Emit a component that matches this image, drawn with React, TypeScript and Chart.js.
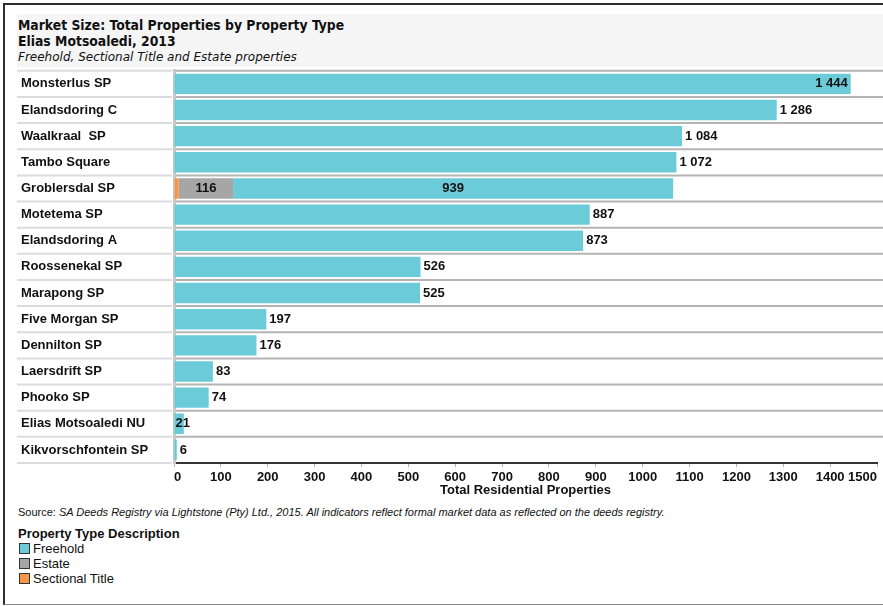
import React, { useEffect, useRef } from "react";
import { Chart, registerables } from "chart.js";

Chart.register(...registerables);

const titleText = "Market Size: Total Properties by Property Type";
const subtitleText = "Elias Motsoaledi, 2013";
const noteText = "Freehold, Sectional Title and Estate properties";
const sourceLead = "Source: ";
const sourceText =
  "SA Deeds Registry via Lightstone (Pty) Ltd., 2015. All indicators reflect formal market data as reflected on the deeds registry.";
const legendTitle = "Property Type Description";
const axisTitle = "Total Residential Properties";

const categories = [
  "Monsterlus SP",
  "Elandsdoring C",
  "Waalkraal  SP",
  "Tambo Square",
  "Groblersdal SP",
  "Motetema SP",
  "Elandsdoring A",
  "Roossenekal SP",
  "Marapong SP",
  "Five Morgan SP",
  "Dennilton SP",
  "Laersdrift SP",
  "Phooko SP",
  "Elias Motsoaledi NU",
  "Kikvorschfontein SP",
];

const freehold = [1444, 1286, 1084, 1072, 939, 887, 873, 526, 525, 197, 176, 83, 74, 21, 6];
const estate = [0, 0, 0, 0, 116, 0, 0, 0, 0, 0, 0, 0, 0, 0, 0];
const sectionalTitle = [0, 0, 0, 0, 10, 0, 0, 0, 0, 0, 0, 0, 0, 0, 0];

const xMin = 0;
const xMax = 1500;
const xStep = 100;

const seriesNames = ["Sectional Title", "Estate", "Freehold"];
const legendNames = ["Freehold", "Estate", "Sectional Title"];

const COLORS: Record<string, string> = {
  Freehold: "#6ccbd9",
  Estate: "#a6a6a6",
  "Sectional Title": "#f79646",
};

const FONT = '"Liberation Sans", Arial, sans-serif';
const TITLE_FONT = '"DejaVu Sans Condensed", "DejaVu Sans", sans-serif';
const NOTE_FONT = '"DejaVu Sans", sans-serif';

const fmt = (v: number) => String(v).replace(/\B(?=(\d{3})+(?!\d))/g, " ");

const rowLines = {
  id: "rowLines",
  beforeDatasetsDraw(chart: any) {
    const { ctx, chartArea } = chart;
    const n = categories.length;
    const rowH = (chartArea.bottom - chartArea.top) / n;
    ctx.save();
    ctx.lineWidth = 2;
    for (let i = 0; i <= n; i++) {
      const y = chartArea.top + i * rowH;
      ctx.strokeStyle = "#dcdcdc";
      ctx.beginPath();
      ctx.moveTo(0, y);
      ctx.lineTo(chartArea.left - 2, y);
      ctx.stroke();
      if (i < n) {
        ctx.strokeStyle = "#b4b4b4";
        ctx.beginPath();
        ctx.moveTo(chartArea.left + 2, y);
        ctx.lineTo(chart.width, y);
        ctx.stroke();
      }
    }
    ctx.restore();
  },
};

const valueLabels = {
  id: "valueLabels",
  afterDatasetsDraw(chart: any) {
    const { ctx, chartArea } = chart;
    ctx.save();
    ctx.font = `bold 13px ${FONT}`;
    ctx.fillStyle = "#111";
    ctx.textBaseline = "middle";
    chart.data.datasets.forEach((ds: any, di: number) => {
      const meta = chart.getDatasetMeta(di);
      meta.data.forEach((bar: any, i: number) => {
        const v = ds.data[i];
        if (!v) return;
        const { x, y, base } = bar.getProps(["x", "y", "base"], true);
        const w = x - base;
        const text = fmt(v);
        const tw = ctx.measureText(text).width;
        const stacked = chart.data.datasets.some((d: any, k: number) => k !== di && d.data[i] > 0);
        if (stacked) {
          if (w < 20) return;
          ctx.textAlign = "center";
          ctx.fillText(text, (x + base) / 2, y);
        } else if (x + tw + 6 > chartArea.right) {
          ctx.textAlign = "right";
          ctx.fillText(text, x - 3, y);
        } else if (w > 8 && w < tw) {
          ctx.textAlign = "left";
          ctx.fillText(text, base + 1, y);
        } else {
          ctx.textAlign = "left";
          ctx.fillText(text, x + 3, y);
        }
      });
    });
    ctx.restore();
  },
};

function BarChart() {
  const ref = useRef<HTMLCanvasElement | null>(null);
  useEffect(() => {
    if (!ref.current) return;
    const dataMap: Record<string, number[]> = {
      "Sectional Title": sectionalTitle,
      Estate: estate,
      Freehold: freehold,
    };
    const chart = new Chart(ref.current, {
      type: "bar",
      data: {
        labels: categories,
        datasets: seriesNames.map((name) => ({
          label: name,
          data: dataMap[name],
          backgroundColor: COLORS[name],
          borderWidth: 0,
          barPercentage: 0.78,
          categoryPercentage: 1,
        })),
      },
      options: {
        indexAxis: "y",
        responsive: false,
        animation: false,
        devicePixelRatio: 1,
        layout: { padding: { top: 8, right: 23, left: 4, bottom: 0 } },
        plugins: {
          legend: { display: false },
          tooltip: { enabled: false },
          title: { display: false },
        },
        scales: {
          x: {
            stacked: true,
            min: xMin,
            max: xMax,
            ticks: {
              stepSize: xStep,
              color: "#111",
              font: { family: FONT, size: 13, weight: "bold" },
              padding: 3,
              maxRotation: 0,
              autoSkip: false,
              align: "inner",
              callback: (v: any) => String(v),
            },
            grid: {
              display: true,
              drawOnChartArea: false,
              drawTicks: true,
              tickLength: 4,
              color: "#b0b0b0",
            },
            border: { display: true, color: "#333", width: 2 },
            title: {
              display: true,
              text: axisTitle,
              color: "#111",
              font: { family: FONT, size: 13, weight: "bold" },
              padding: { top: 0, bottom: 2 },
            },
            afterFit: (scale: any) => {
              scale.height = 37;
            },
          },
          y: {
            stacked: true,
            ticks: {
              crossAlign: "far",
              color: "#111",
              font: { family: FONT, size: 13, weight: "bold" },
              autoSkip: false,
            },
            grid: { display: false, drawTicks: false },
            border: { display: true, color: "#c8c8c8", width: 3 },
            afterFit: (scale: any) => {
              scale.width = 153;
            },
          },
        },
      },
      plugins: [rowLines, valueLabels],
    } as any);
    return () => chart.destroy();
  }, []);
  return (
    <canvas
      ref={ref}
      width={883}
      height={440}
      style={{ position: "absolute", left: 17, top: 60, width: 883, height: 440 }}
    />
  );
}

export default function App() {
  const abs = (o: any) => ({ position: "absolute" as const, whiteSpace: "nowrap" as const, ...o });
  return (
    <div
      style={{
        position: "absolute",
        left: 0,
        top: 0,
        width: 883,
        height: 606,
        overflow: "hidden",
        background: "#fff",
        fontFamily: FONT,
        color: "#111",
      }}
    >
      <div
        style={{
          position: "absolute",
          left: 3,
          top: 3,
          width: 900,
          height: 602,
          boxSizing: "border-box",
          borderTop: "2px solid #2e2e2e",
          borderLeft: "2px solid #2e2e2e",
          borderBottom: "1px solid #8a8a8a",
        }}
      />
      <div style={abs({ left: 17, top: 14, width: 866, height: 53, background: "#f5f5f5" })} />
      <div style={abs({ left: 18, top: 16.5, fontFamily: TITLE_FONT, fontWeight: "bold", fontSize: 13.8, lineHeight: "16px" })}>
        {titleText}
      </div>
      <div style={abs({ left: 18, top: 33, fontFamily: TITLE_FONT, fontWeight: "bold", fontSize: 13.8, lineHeight: "16px" })}>
        {subtitleText}
      </div>
      <div style={abs({ left: 18, top: 49.5, fontFamily: NOTE_FONT, fontStyle: "italic", fontSize: 12, lineHeight: "15px" })}>
        {noteText}
      </div>
      <BarChart />
      <div style={abs({ left: 18, top: 506, fontSize: 11, lineHeight: "12px" })}>
        {sourceLead}
        <i>{sourceText}</i>
      </div>
      <div style={abs({ left: 18, top: 527, fontSize: 13, fontWeight: "bold", lineHeight: "14px" })}>{legendTitle}</div>
      <div style={abs({ left: 18, top: 540.5, fontSize: 13, lineHeight: "15px" })}>
        {legendNames.map((name) => (
          <div key={name} style={{ display: "flex", alignItems: "center", height: 15 }}>
            <span
              style={{
                display: "inline-block",
                width: 9,
                height: 9,
                marginLeft: 1,
                marginRight: 3,
                background: COLORS[name],
                border: "1px solid #333",
              }}
            />
            <span>{name}</span>
          </div>
        ))}
      </div>
    </div>
  );
}
